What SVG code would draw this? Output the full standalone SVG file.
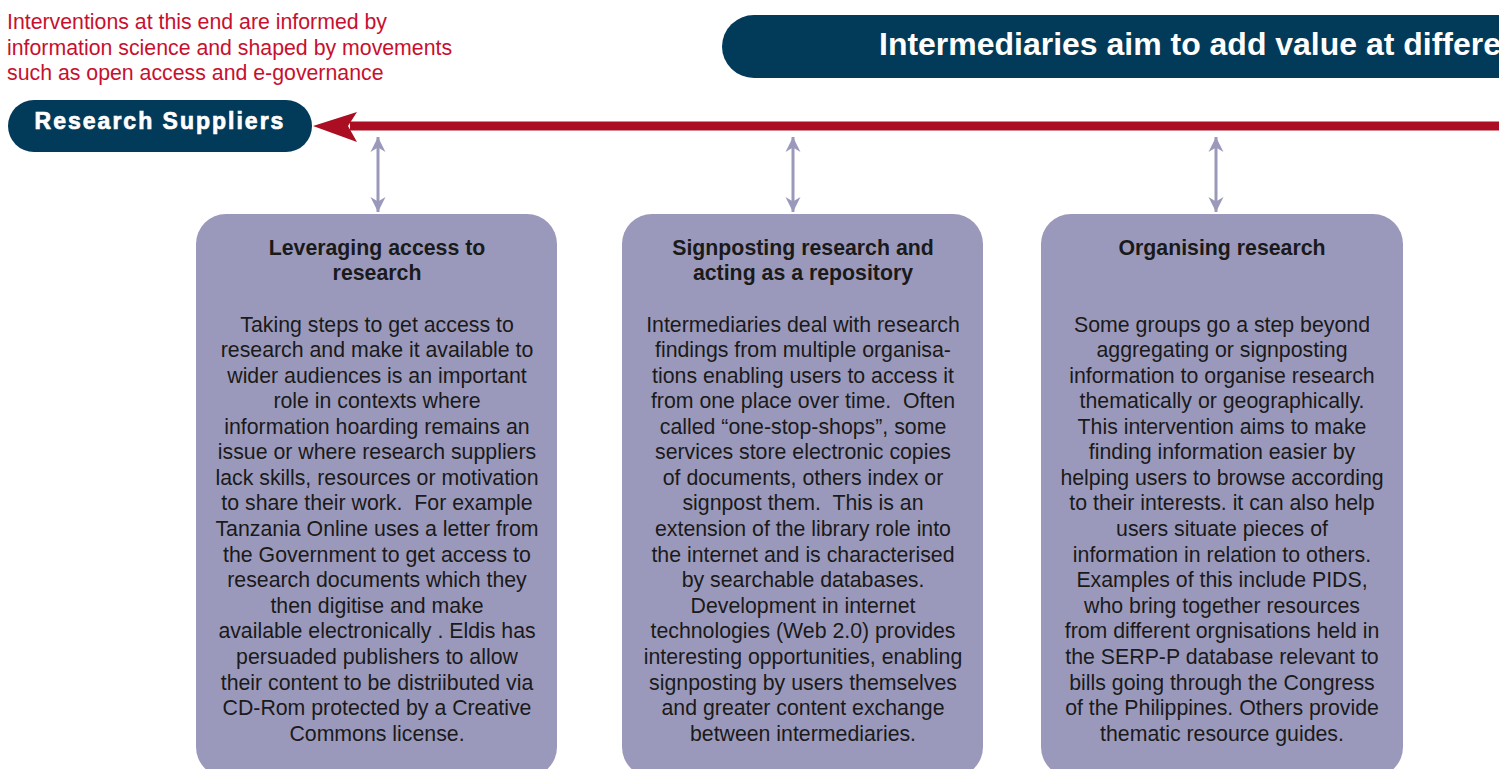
<svg xmlns="http://www.w3.org/2000/svg" width="1499" height="769" viewBox="0 0 1499 769">
<defs>
<style>
.navy{fill:#023a59}
.box{fill:#9b99bb}
.t{font-family:"Liberation Sans",Arial,sans-serif;font-size:21.3px;fill:#1a1a1a;text-anchor:middle;white-space:pre}
.h{font-weight:bold}
.red{font-family:"Liberation Sans",Arial,sans-serif;font-size:21.3px;fill:#c8102e}
.pw{font-family:"Liberation Sans",Arial,sans-serif;font-weight:bold;fill:#ffffff}
.dbl{stroke:#9b99bb;stroke-width:3;fill:none;marker-start:url(#ah);marker-end:url(#ah)}
</style>
<marker id="ah" viewBox="0 0 10 10" refX="10" refY="5" markerWidth="5" markerHeight="6" orient="auto-start-reverse" markerUnits="strokeWidth">
<path d="M0,0 L10,5 L0,10 L3,5 Z" fill="#9b99bb"/>
</marker>
</defs>
<rect width="1499" height="769" fill="#ffffff"/>
<g id="note">
<text class="red" x="7" y="29">Interventions at this end are informed by</text>
<text class="red" x="7" y="55">information science and shaped by movements</text>
<text class="red" x="7" y="80">such as open access and e-governance</text>
</g>
<g id="header">
<rect class="navy" x="722" y="15" width="820" height="63" rx="32"/>
<text class="pw" x="879" y="55" font-size="32" textLength="622" lengthAdjust="spacingAndGlyphs">Intermediaries aim to add value at differe</text>
</g>
<g id="research-suppliers">
<rect class="navy" x="8" y="100" width="304" height="52" rx="26"/>
<text class="pw" x="160" y="129" font-size="23" text-anchor="middle" letter-spacing="2" stroke="#ffffff" stroke-width="0.7">Research Suppliers</text>
</g>
<g id="connectors">
<path d="M1499,126 L350,126" stroke="#ab0e22" stroke-width="9" fill="none"/>
<path d="M313,126 L357,112 L348,126 L357,142 Z" fill="#ab0e22"/>
<line class="dbl" x1="378" y1="137" x2="378" y2="212"/>
<line class="dbl" x1="793" y1="137" x2="793" y2="212"/>
<line class="dbl" x1="1216" y1="137" x2="1216" y2="212"/>
</g>
<g id="box1">
<rect class="box" x="196" y="214" width="361" height="563" rx="30"/>
<text class="t h" x="377" y="255">Leveraging access to</text>
<text class="t h" x="377" y="280">research</text>
<text class="t" x="377" y="332">Taking steps to get access to</text>
<text class="t" x="377" y="357">research and make it available to</text>
<text class="t" x="377" y="383">wider audiences is an important</text>
<text class="t" x="377" y="408">role in contexts where</text>
<text class="t" x="377" y="434">information hoarding remains an</text>
<text class="t" x="377" y="459">issue or where research suppliers</text>
<text class="t" x="377" y="485">lack skills, resources or motivation</text>
<text class="t" x="377" y="510">to share their work.  For example</text>
<text class="t" x="377" y="536">Tanzania Online uses a letter from</text>
<text class="t" x="377" y="562">the Government to get access to</text>
<text class="t" x="377" y="587">research documents which they</text>
<text class="t" x="377" y="613">then digitise and make</text>
<text class="t" x="377" y="638">available electronically . Eldis has</text>
<text class="t" x="377" y="664">persuaded publishers to allow</text>
<text class="t" x="377" y="690">their content to be distriibuted via</text>
<text class="t" x="377" y="715">CD-Rom protected by a Creative</text>
<text class="t" x="377" y="741">Commons license.</text>
</g>
<g id="box2">
<rect class="box" x="622" y="214" width="361" height="563" rx="30"/>
<text class="t h" x="803" y="255">Signposting research and</text>
<text class="t h" x="803" y="280">acting as a repository</text>
<text class="t" x="803" y="332">Intermediaries deal with research</text>
<text class="t" x="803" y="357">findings from multiple organisa-</text>
<text class="t" x="803" y="383">tions enabling users to access it</text>
<text class="t" x="803" y="408">from one place over time.  Often</text>
<text class="t" x="803" y="434">called “one-stop-shops”, some</text>
<text class="t" x="803" y="459">services store electronic copies</text>
<text class="t" x="803" y="485">of documents, others index or</text>
<text class="t" x="803" y="510">signpost them.  This is an</text>
<text class="t" x="803" y="536">extension of the library role into</text>
<text class="t" x="803" y="562">the internet and is characterised</text>
<text class="t" x="803" y="587">by searchable databases.</text>
<text class="t" x="803" y="613">Development in internet</text>
<text class="t" x="803" y="638">technologies (Web 2.0) provides</text>
<text class="t" x="803" y="664">interesting opportunities, enabling</text>
<text class="t" x="803" y="690">signposting by users themselves</text>
<text class="t" x="803" y="715">and greater content exchange</text>
<text class="t" x="803" y="741">between intermediaries.</text>
</g>
<g id="box3">
<rect class="box" x="1041" y="214" width="362" height="563" rx="30"/>
<text class="t h" x="1222" y="255">Organising research</text>
<text class="t" x="1222" y="332">Some groups go a step beyond</text>
<text class="t" x="1222" y="357">aggregating or signposting</text>
<text class="t" x="1222" y="383">information to organise research</text>
<text class="t" x="1222" y="408">thematically or geographically.</text>
<text class="t" x="1222" y="434">This intervention aims to make</text>
<text class="t" x="1222" y="459">finding information easier by</text>
<text class="t" x="1222" y="485">helping users to browse according</text>
<text class="t" x="1222" y="510">to their interests. it can also help</text>
<text class="t" x="1222" y="536">users situate pieces of</text>
<text class="t" x="1222" y="562">information in relation to others.</text>
<text class="t" x="1222" y="587">Examples of this include PIDS,</text>
<text class="t" x="1222" y="613">who bring together resources</text>
<text class="t" x="1222" y="638">from different orgnisations held in</text>
<text class="t" x="1222" y="664">the SERP-P database relevant to</text>
<text class="t" x="1222" y="690">bills going through the Congress</text>
<text class="t" x="1222" y="715">of the Philippines. Others provide</text>
<text class="t" x="1222" y="741">thematic resource guides.</text>
</g>
</svg>
